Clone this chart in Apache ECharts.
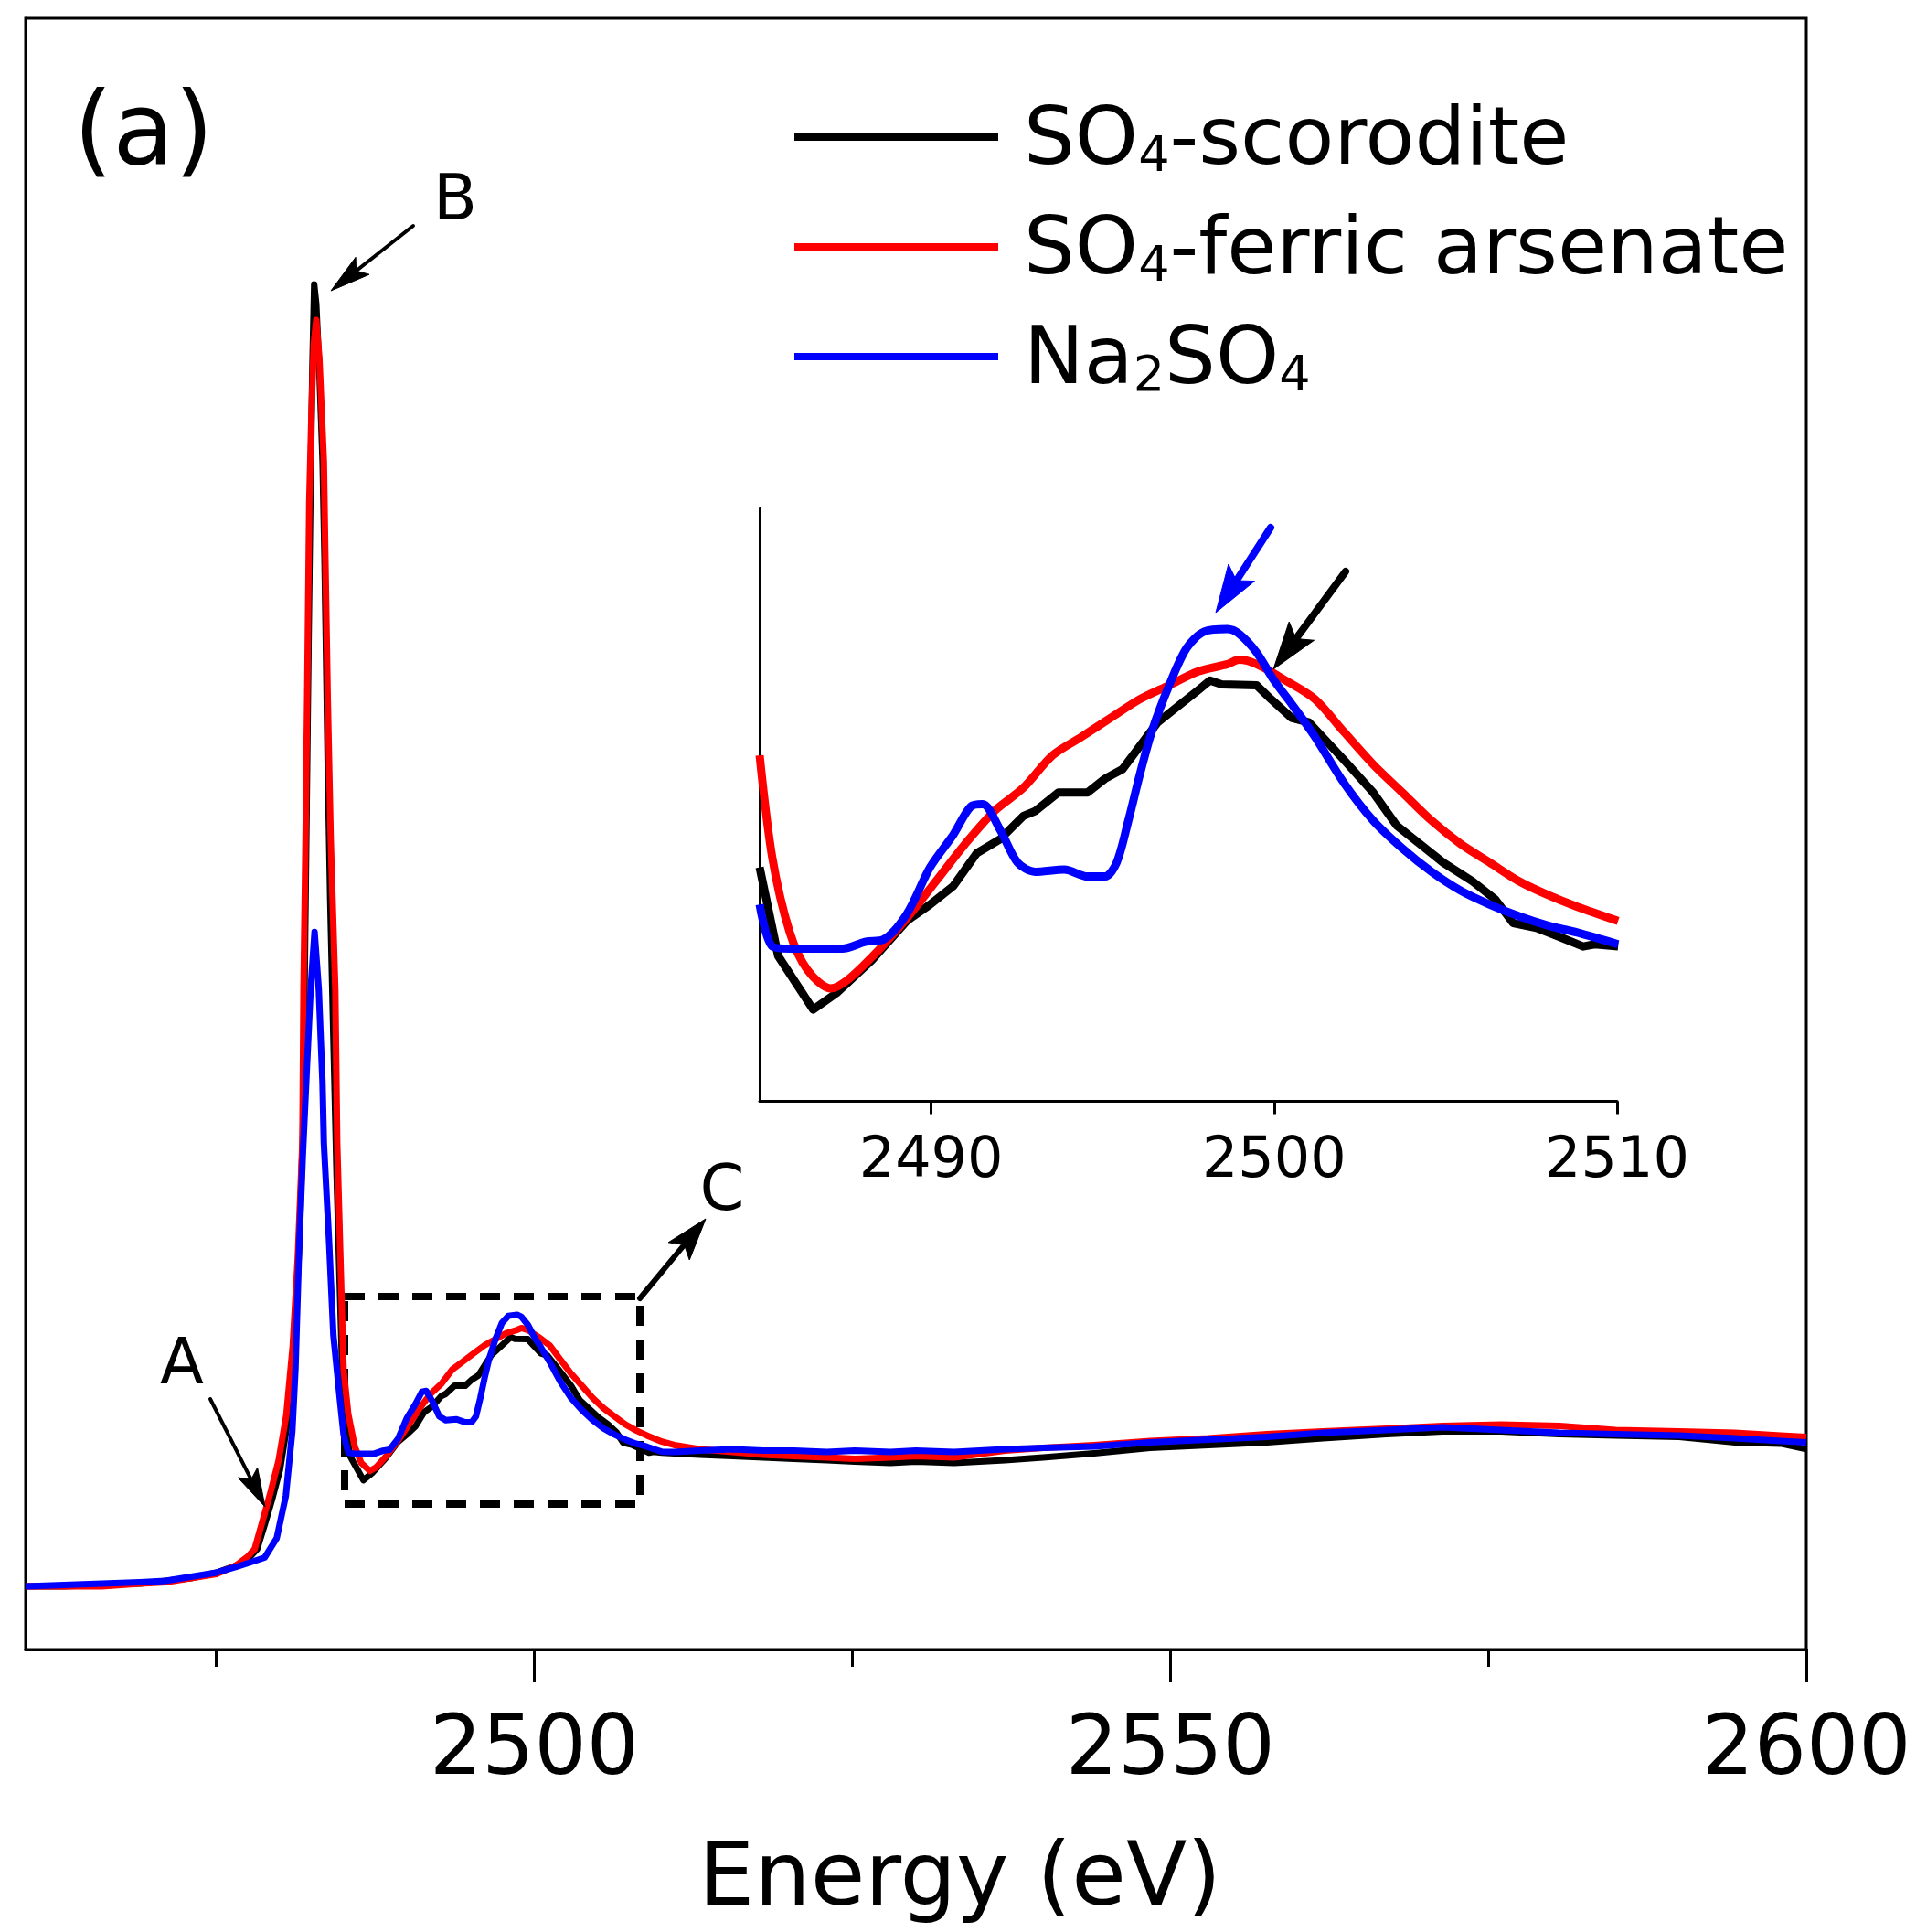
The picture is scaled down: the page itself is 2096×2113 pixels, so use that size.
<!DOCTYPE html>
<html>
<head>
<meta charset="utf-8">
<script src="https://cdn.jsdelivr.net/npm/echarts@6/dist/echarts.min.js"></script>
<style>html,body{margin:0;padding:0;background:#fff}#c{width:2096px;height:2113px}</style>
</head>
<body>
<div id="c"></div>
<script>
const FONT = 'DejaVu Sans';

// ---- data (energy in eV, normalized absorption) ----
const energyScorodite = [2460.0, 2463.0, 2466.0, 2469.0, 2471.0, 2473.0, 2475.0, 2476.5, 2477.5, 2478.2, 2478.8, 2479.4, 2480.0, 2480.6, 2481.1, 2481.5, 2481.8, 2481.95, 2482.1, 2482.25, 2482.4, 2482.55, 2482.69, 2482.85, 2483.1, 2483.35, 2483.5, 2483.62, 2483.75, 2483.95, 2484.2, 2484.45, 2484.7,
  2485.00, 2485.54, 2486.56, 2487.24, 2488.27, 2489.29, 2489.97, 2490.65, 2491.33, 2492.01, 2492.69, 2493.03, 2493.71, 2494.56, 2495.07, 2495.58, 2496.09, 2496.60, 2497.11, 2497.79, 2498.13, 2498.47, 2499.49, 2499.91, 2500.51, 2501.02, 2502.04, 2502.89, 2503.57, 2504.25, 2504.93, 2505.78, 2506.46, 2506.97, 2507.65, 2508.33, 2509.01, 2509.35, 2510.03,
  2511, 2513, 2515.6, 2518, 2520.4, 2523, 2525.2, 2528, 2530, 2533, 2537, 2540, 2544, 2548.4, 2553, 2557.6, 2562, 2567, 2571.4, 2576, 2580.6, 2585, 2590, 2594.4, 2598, 2600];
const muScorodite = [0.00, 0.00, 0.01, 0.02, 0.04, 0.06, 0.10, 0.15, 0.20, 0.27, 0.45, 0.64, 0.85, 1.20, 1.72, 2.45, 3.30, 4.50, 5.70, 6.90, 8.00, 8.90, 9.49, 9.35, 8.85, 8.20, 7.50, 6.80, 6.00, 5.00, 4.00, 3.00, 2.20,
  1.225, 0.944, 0.774, 0.826, 0.930, 1.055, 1.107, 1.166, 1.270, 1.314, 1.388, 1.403, 1.462, 1.462, 1.506, 1.536, 1.610, 1.684, 1.728, 1.787, 1.817, 1.805, 1.802, 1.758, 1.699, 1.684, 1.565, 1.462, 1.358, 1.299, 1.240, 1.181, 1.122, 1.048, 1.033, 1.004, 0.974, 0.981, 0.974,
  0.97, 0.96, 0.95, 0.94, 0.93, 0.92, 0.91, 0.90, 0.91, 0.90, 0.92, 0.94, 0.97, 1.01, 1.03, 1.05, 1.08, 1.11, 1.13, 1.13, 1.11, 1.10, 1.09, 1.05, 1.04, 1.00];

const energyFerric = [2460.0, 2463.0, 2466.0, 2469.0, 2471.0, 2473.0, 2475.0, 2476.5, 2477.5, 2478.0, 2478.7, 2479.3, 2479.9, 2480.5, 2481.0, 2481.4, 2481.76, 2481.85, 2482.01, 2482.15, 2482.30, 2482.48, 2482.65, 2482.85, 2483.1, 2483.45, 2483.55, 2483.66, 2483.75, 2483.99, 2484.35, 2484.50, 2484.71,
  2485.00, 2485.37, 2485.88, 2486.39, 2487.07, 2487.59, 2488.44, 2489.29, 2490.14, 2490.99, 2491.84, 2492.69, 2493.54, 2494.39, 2495.24, 2496.09, 2496.94, 2497.79, 2498.64, 2498.98, 2499.49, 2500.34, 2501.19, 2502.04, 2502.89, 2503.74, 2504.59, 2505.44, 2506.29, 2507.14, 2507.99, 2508.84, 2510.03,
  2511, 2513, 2515.6, 2518, 2520.4, 2523, 2525.2, 2528, 2530, 2533, 2537, 2540, 2544, 2548.4, 2553, 2557.6, 2562, 2567, 2571.4, 2576, 2580.6, 2585, 2590, 2594.4, 2598, 2600];
const muFerric = [0.00, 0.00, 0.00, 0.02, 0.03, 0.06, 0.09, 0.15, 0.22, 0.27, 0.50, 0.70, 0.92, 1.25, 1.75, 2.40, 3.23, 4.35, 5.45, 6.57, 7.90, 8.57, 9.05, 9.23, 8.95, 8.20, 7.60, 7.00, 6.50, 5.45, 4.35, 3.23, 2.53,
  1.580, 1.255, 1.018, 0.900, 0.841, 0.870, 0.959, 1.063, 1.181, 1.299, 1.403, 1.477, 1.580, 1.639, 1.699, 1.758, 1.802, 1.846, 1.869, 1.883, 1.869, 1.817, 1.758, 1.654, 1.551, 1.462, 1.373, 1.299, 1.240, 1.181, 1.137, 1.100, 1.055,
  1.03, 1.00, 0.98, 0.96, 0.95, 0.94, 0.93, 0.94, 0.95, 0.94, 0.99, 1.01, 1.03, 1.06, 1.08, 1.11, 1.13, 1.15, 1.17, 1.18, 1.17, 1.14, 1.13, 1.12, 1.10, 1.09];

const energyNa2SO4 = [2460, 2463, 2466, 2469, 2471, 2473, 2475, 2476.5, 2477.5, 2478.8, 2479.74, 2480.46, 2480.97, 2481.22, 2481.5, 2481.8, 2482.1, 2482.41, 2482.72, 2483.05, 2483.34, 2483.45, 2483.85, 2484.2, 2484.71,
  2485.00, 2485.37, 2485.88, 2486.73, 2487.41, 2488.10, 2488.61, 2489.29, 2489.97, 2490.65, 2491.16, 2491.50, 2492.01, 2492.52, 2493.03, 2493.88, 2494.56, 2495.07, 2495.41, 2495.75, 2496.09, 2496.43, 2496.94, 2497.45, 2497.96, 2498.64, 2498.98, 2499.49, 2500.00, 2500.51, 2501.19, 2502.04, 2502.89, 2503.74, 2504.59, 2505.44, 2506.29, 2507.14, 2507.99, 2508.84, 2510.03,
  2511, 2513, 2515.6, 2518, 2520.4, 2523, 2525.2, 2528, 2530, 2533, 2537, 2540, 2544, 2548.4, 2553, 2557.6, 2562, 2567, 2571.4, 2576, 2580.6, 2585, 2590, 2594.4, 2598, 2600];
const muNa2SO4 = [0.00, 0.01, 0.02, 0.03, 0.04, 0.07, 0.10, 0.14, 0.17, 0.21, 0.35, 0.66, 1.13, 1.59, 2.45, 3.15, 3.75, 4.35, 4.77, 4.35, 3.68, 3.23, 2.53, 1.83, 1.36,
  1.107, 0.974, 0.967, 0.967, 0.967, 0.989, 0.996, 1.077, 1.225, 1.329, 1.418, 1.425, 1.344, 1.240, 1.211, 1.218, 1.196, 1.196, 1.240, 1.373, 1.521, 1.654, 1.802, 1.920, 1.972, 1.980, 1.965, 1.906, 1.817, 1.743, 1.639, 1.492, 1.373, 1.285, 1.211, 1.151, 1.107, 1.070, 1.040, 1.018, 0.981,
  0.98, 0.99, 1.00, 0.99, 0.99, 0.98, 0.99, 0.98, 0.99, 0.98, 1.00, 1.01, 1.02, 1.05, 1.07, 1.09, 1.12, 1.14, 1.16, 1.14, 1.12, 1.11, 1.10, 1.08, 1.06, 1.05];

const seriesNames = ['SO4-scorodite', 'SO4-ferric arsenate', 'Na2SO4'];
const legendRich = {
  'SO4-scorodite': '{n|SO}{s|4}{n|-scorodite}',
  'SO4-ferric arsenate': '{n|SO}{s|4}{n|-ferric arsenate}',
  'Na2SO4': '{n|Na}{s|2}{n|SO}{s|4}'
};
const mainTickValues = [2500, 2550, 2600];
const mainMinorTickValues = [2475, 2525, 2575];
const insetTickValues = [2490, 2500, 2510];
const insetRange = [2485, 2510];
const colors = ['#000000', '#ff0000', '#0000ff'];

function pairs(xs, ys) { return xs.map((x, i) => [x, ys[i]]); }
const dataSets = [pairs(energyScorodite, muScorodite), pairs(energyFerric, muFerric), pairs(energyNa2SO4, muNa2SO4)];
const insetSets = dataSets.map(d => d.filter(p => p[0] >= insetRange[0] && p[0] <= insetRange[1] + 0.1));

function arrow(tx, ty, px, py, len, hw, lw, color) {
  const dx = px - tx, dy = py - ty, d = Math.hypot(dx, dy), ux = dx / d, uy = dy / d;
  const bx = px - ux * len, by = py - uy * len;
  const nx = px - ux * len * 0.8, ny = py - uy * len * 0.8;
  return [
    { type: 'line', z: 10, shape: { x1: tx, y1: ty, x2: nx, y2: ny }, style: { stroke: color, lineWidth: lw, lineCap: 'round' } },
    { type: 'polygon', z: 10, shape: { points: [[px, py], [bx - uy * hw, by + ux * hw], [nx, ny], [bx + uy * hw, by - ux * hw]] }, style: { fill: color, stroke: color, lineWidth: 1 } }
  ];
}
function label(text, x, y, size) {
  return { type: 'text', z: 10, x: x, y: y, style: { text: text, fontFamily: FONT, fontSize: size, fill: '#000', align: 'center', verticalAlign: 'middle' } };
}

const chart = echarts.init(document.getElementById('c'), null, { renderer: 'canvas' });

const series = [];
seriesNames.forEach((name, i) => {
  series.push({
    name: name, type: 'line', xAxisIndex: 0, yAxisIndex: 0, data: dataSets[i],
    showSymbol: false, symbol: 'none', smooth: false, clip: true,
    lineStyle: { color: colors[i], width: 7, join: 'round' }, itemStyle: { color: colors[i] },
    emphasis: { disabled: true }, z: 2 + i
  });
});
seriesNames.forEach((name, i) => {
  series.push({
    name: name, type: 'line', xAxisIndex: 2, yAxisIndex: 1, data: insetSets[i],
    showSymbol: false, symbol: 'none', smooth: i === 0 ? false : 0.3, clip: true,
    lineStyle: { color: colors[i], width: 9, join: 'round' }, itemStyle: { color: colors[i] },
    emphasis: { disabled: true }, z: 2 + i
  });
});

const graphics = [].concat(
  [{ type: 'rect', z: 1, shape: { x: 377, y: 1418, width: 323, height: 227 }, style: { fill: null, stroke: '#000', lineWidth: 8, lineDash: [22, 15] } }],
  arrow(452, 247, 362, 318, 44, 12, 4, '#000'),
  arrow(230, 1530, 290, 1648, 42, 12, 4, '#000'),
  arrow(700, 1420, 772, 1333, 46, 15, 6, '#000'),
  arrow(1390, 577, 1330, 670, 52, 17, 8, '#0000ff'),
  arrow(1472, 625, 1393, 732, 52, 17, 8, '#000'),
  [
    label('(a)', 157, 150, 110),
    label('A', 199, 1495, 70),
    label('B', 498, 222, 70),
    label('C', 790, 1305, 70),
    label('Energy (eV)', 1050, 2058, 97)
  ]
);

chart.setOption({
  animation: false,
  backgroundColor: '#ffffff',
  textStyle: { fontFamily: FONT },
  grid: [
    { left: 28, top: 20, right: 120, bottom: 309, show: true, borderColor: '#000', borderWidth: 3, backgroundColor: 'transparent', containLabel: false, outerBoundsMode: 'none' },
    { left: 831, top: 556, width: 938, height: 648.5, show: false, containLabel: false, outerBoundsMode: 'none' }
  ],
  legend: {
    orient: 'vertical', left: 869, top: 112, padding: 0,
    itemWidth: 223, itemHeight: 8, itemGap: 32, icon: 'rect',
    data: seriesNames, selectedMode: false,
    formatter: (name) => legendRich[name],
    textStyle: {
      padding: [0, 0, 0, 23],
      rich: {
        n: { fontFamily: FONT, fontSize: 88, lineHeight: 100, color: '#000', verticalAlign: 'bottom' },
        s: { fontFamily: FONT, fontSize: 54, lineHeight: 84, color: '#000', verticalAlign: 'bottom' }
      }
    }
  },
  xAxis: [
    {
      gridIndex: 0, type: 'value', min: 2460, max: 2600, position: 'bottom',
      axisLine: { show: true, onZero: false, lineStyle: { color: '#000', width: 3 } },
      axisTick: { show: true, inside: false, length: 36, customValues: mainTickValues, lineStyle: { color: '#000', width: 3 } },
      axisLabel: { show: true, customValues: mainTickValues, formatter: v => String(v), margin: 68, fontFamily: FONT, fontSize: 90, color: '#000' },
      splitLine: { show: false }
    },
    {
      gridIndex: 0, type: 'value', min: 2460, max: 2600, position: 'bottom',
      axisLine: { show: false, onZero: false },
      axisTick: { show: true, inside: false, length: 19, customValues: mainMinorTickValues, lineStyle: { color: '#000', width: 3 } },
      axisLabel: { show: false },
      splitLine: { show: false }
    },
    {
      gridIndex: 1, type: 'value', min: insetRange[0], max: insetRange[1], position: 'bottom',
      axisLine: { show: true, onZero: false, lineStyle: { color: '#000', width: 3 } },
      axisTick: { show: true, inside: false, length: 14, customValues: insetTickValues, lineStyle: { color: '#000', width: 3 } },
      axisLabel: { show: true, customValues: insetTickValues, formatter: v => String(v), margin: 35, fontFamily: FONT, fontSize: 62, color: '#000' },
      splitLine: { show: false }
    }
  ],
  yAxis: [
    {
      gridIndex: 0, type: 'value', min: -0.46, max: 11.43,
      axisLine: { show: true, onZero: false, lineStyle: { color: '#000', width: 3 } },
      axisTick: { show: false }, axisLabel: { show: false }, splitLine: { show: false }
    },
    {
      gridIndex: 1, type: 'value', min: 0.483, max: 2.363,
      axisLine: { show: true, onZero: false, lineStyle: { color: '#000', width: 3 } },
      axisTick: { show: false }, axisLabel: { show: false }, splitLine: { show: false }
    }
  ],
  series: series,
  graphic: { elements: graphics }
});
</script>
</body>
</html>
